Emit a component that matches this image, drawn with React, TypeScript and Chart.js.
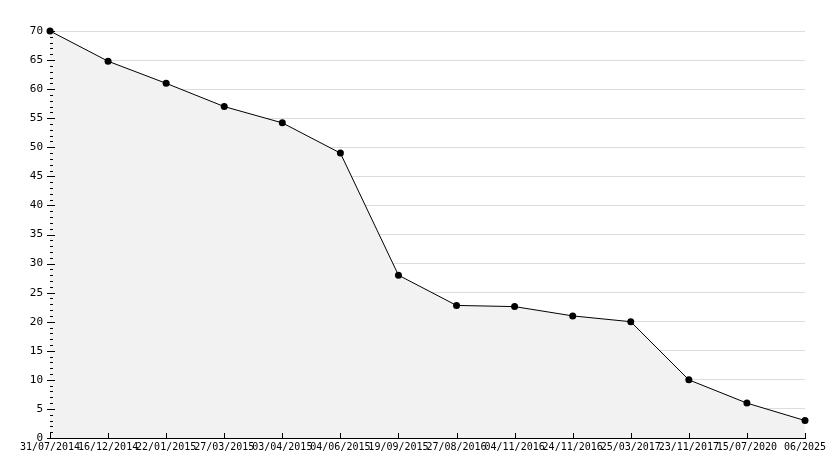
import React, { useEffect, useRef } from "react";
import { Chart, registerables } from "chart.js";

Chart.register(...registerables);

const categories = [
  "31/07/2014", "16/12/2014", "22/01/2015", "27/03/2015", "03/04/2015",
  "04/06/2015", "19/09/2015", "27/08/2016", "04/11/2016", "24/11/2016",
  "25/03/2017", "23/11/2017", "15/07/2020", "06/2025",
];
const values = [70, 64.8, 61, 57, 54.2, 49, 28, 22.8, 22.6, 21, 20, 10, 6, 3];
const yMin = 0;
const yMax = 70;
const yStep = 5;

const tickPlugin = {
  id: "axisTicks",
  afterDraw(chart: any) {
    const ctx = chart.ctx;
    const y = chart.scales.y;
    const x = chart.scales.x;
    const area = chart.chartArea;
    ctx.save();
    ctx.strokeStyle = "#000";
    ctx.lineWidth = 1;
    ctx.beginPath();
    for (let v = yMin; v <= yMax; v += 1) {
      const py = Math.round(y.getPixelForValue(v)) + 0.5;
      const major = v % yStep === 0;
      ctx.moveTo(area.left - (major ? 3 : 0), py);
      ctx.lineTo(area.left + (major ? 5 : 3), py);
    }
    for (let i = 0; i < categories.length; i++) {
      const px = Math.round(x.getPixelForValue(i)) + 0.5;
      ctx.moveTo(px, area.bottom);
      ctx.lineTo(px, area.bottom - 5);
    }
    ctx.stroke();
    ctx.restore();
  },
};

export default function App() {
  const ref = useRef<HTMLCanvasElement>(null);
  useEffect(() => {
    if (!ref.current) return;
    const chart = new Chart(ref.current, {
      type: "line",
      data: {
        labels: categories,
        datasets: [
          {
            data: values,
            borderColor: "#000",
            borderWidth: 1,
            backgroundColor: "#f2f2f2",
            fill: "origin",
            tension: 0,
            pointRadius: 3.5,
            pointBackgroundColor: "#000",
            pointBorderColor: "#000",
            pointBorderWidth: 0,
            clip: false as any,
          },
        ],
      },
      options: {
        animation: false,
        responsive: false,
        maintainAspectRatio: false,
        layout: { padding: { left: 0, right: 29, top: 31, bottom: 0 } },
        plugins: { legend: { display: false }, tooltip: { enabled: false } },
        scales: {
          x: {
            type: "category",
            offset: false,
            grid: { display: true, drawOnChartArea: false, drawTicks: false },
            border: { display: true, color: "#000", width: 1 },
            ticks: {
              autoSkip: false,
              maxRotation: 0,
              minRotation: 0,
              padding: 3,
              color: "#000",
              font: { family: "DejaVu Sans Mono", size: 10 },
            },
            afterFit: (s: any) => {
              s.height = 30;
            },
          },
          y: {
            min: yMin,
            max: yMax,
            grid: { color: "#dcdcdc", drawTicks: false, lineWidth: 1 },
            border: { display: true, color: "#000", width: 1 },
            ticks: {
              stepSize: yStep,
              padding: 7,
              color: "#000",
              font: { family: "DejaVu Sans Mono", size: 11 },
            },
            afterFit: (s: any) => {
              s.width = 50;
            },
          },
        },
      },
      plugins: [tickPlugin],
    });
    return () => chart.destroy();
  }, []);
  return (
    <div style={{ position: "fixed", left: 0, top: 0, width: 834, height: 468, background: "#fff" }}>
      <canvas ref={ref} width={834} height={468} style={{ display: "block" }} />
    </div>
  );
}
